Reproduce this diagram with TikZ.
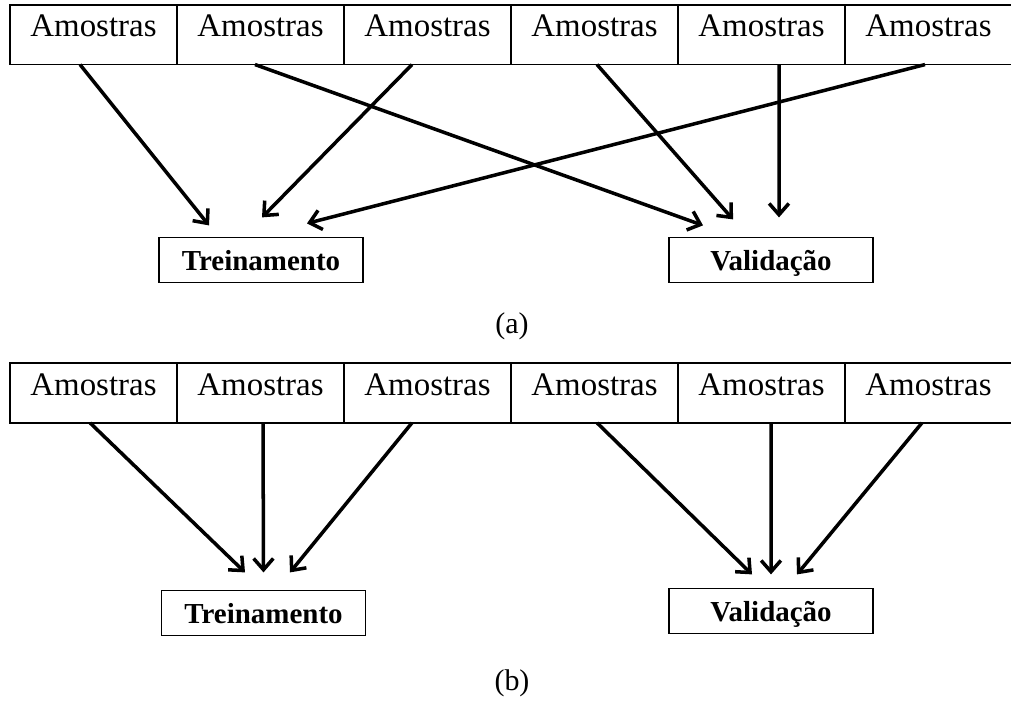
\documentclass[tikz,border=0pt]{standalone}
\usepackage{fontspec}
\setmainfont{Liberation Serif}
\usetikzlibrary{arrows.meta,calc}

\begin{document}
\begin{tikzpicture}[x=0.025cm,y=-0.025cm,
		amostra/.style={draw,line width=1.1pt,minimum width=4.175cm,inner xsep=0pt,inner ysep=0pt,outer sep=0pt,text height=0.8cm,text depth=0.69cm,font=\fontsize{23.4}{28}\selectfont},
		conjunto/.style={draw,line width=1.1pt,minimum width=5.1cm,minimum height=1.13cm,inner sep=0pt,outer sep=0pt,text height=0.55cm,text depth=0.05cm,font=\fontsize{20.6}{24}\selectfont\bfseries},
		seta/.style={line width=2.5pt,-{Straight Barb[length=8pt,width=14pt]}},
		legenda/.style={font=\fontsize{21.3}{26}\selectfont}]
		\useasboundingbox (0,0) rectangle (1011,702);
		% linhas de amostras
		\foreach \i in {1,...,6}{
			\node[amostra] (a\i) at ({93.5+167*(\i-1)}, 34.75) {Amostras};
			\node[amostra] (b\i) at ({93.5+167*(\i-1)}, 393) {Amostras};
		}
		\node[conjunto] (ta) at (261, 260) {Treinamento};
		\node[conjunto] (va) at (771, 260) {Validação};
		\node[conjunto] (tb) at (263.5, 613) {Treinamento};
		\node[conjunto] (vb) at (771, 611) {Validação};
		\node[legenda] (la) at (512, 326) {(a)};
		\node[legenda] (lb) at (512, 683) {(b)};
		% (a) divisao aleatoria
		\draw[seta] ($(a1.south)+(-13.5,0)$) -- ($(ta.north)+(-52,-12)$);
		\draw[seta] ($(a2.south)+(-5.5,0)$)  -- ($(va.north)+(-68,-12)$);
		\draw[seta] ($(a3.south)+(-15.5,0)$) -- ($(ta.north)+(1,-20)$);
		\draw[seta] ($(a4.south)+(2.5,0)$)   -- ($(va.north)+(-38,-18)$);
		\draw[seta] ($(a5.south)+(17.5,0)$)  -- ($(va.north)+(8,-20)$);
		\draw[seta] ($(a6.south)+(-3.5,0)$)  -- ($(ta.north)+(46,-14)$);
		% (b) divisao sequencial
		\draw[seta] ($(b1.south)+(-3.5,0)$)  -- ($(tb.north)+(-18.5,-18)$);
		\draw[seta] ($(b2.south)+(2.5,0)$)   -- ($(tb.north)+(0,-18)$);
		\draw[seta] ($(b3.south)+(-15.5,0)$) -- ($(tb.north)+(26.5,-18)$);
		\draw[seta] ($(b4.south)+(2.5,0)$)   -- ($(vb.north)+(-19,-14)$);
		\draw[seta] ($(b5.south)+(9.5,0)$)   -- ($(vb.north)+(0,-14)$);
		\draw[seta] ($(b6.south)+(-6.5,0)$)  -- ($(vb.north)+(26,-14)$);
\end{tikzpicture}
\end{document}
